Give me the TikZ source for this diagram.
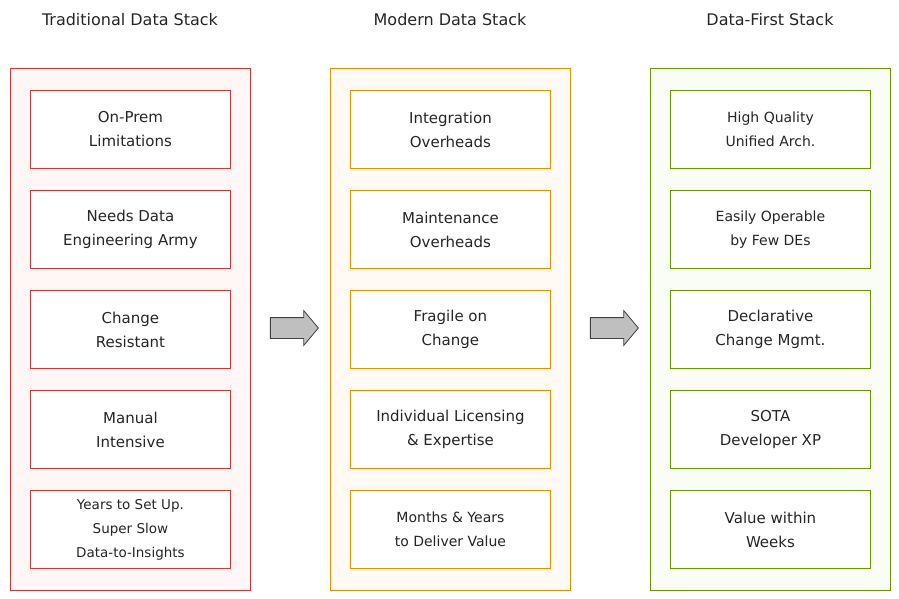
\documentclass[tikz,border=0pt]{standalone}
\usepackage{fontspec}
\setmainfont{DejaVu Sans}
\usetikzlibrary{shapes.arrows}
\definecolor{redline}{RGB}{224,49,49}
\definecolor{redfill}{RGB}{255,246,246}
\definecolor{orangeline}{RGB}{240,140,0}
\definecolor{orangefill}{RGB}{255,250,243}
\definecolor{greenline}{RGB}{102,153,0}
\definecolor{greenfill}{RGB}{250,253,246}
\tikzset{
    panel/.style={draw=#1line, fill=#1fill, line width=1pt, minimum width=240pt,
        minimum height=522pt, anchor=north west},
    item/.style={draw=#1line, fill=white, line width=0.9pt, minimum width=200pt,
        minimum height=78pt, anchor=north west, align=center, font=\fontsize{15}{24}\selectfont,
        text=black!85},
    title/.style={font=\fontsize{16}{18}\selectfont, text=black!85},
    flowarrow/.style={single arrow, draw=black!75, fill=black!25, line width=0.8pt,
        inner xsep=0pt, inner ysep=10pt, single arrow head extend=7pt,
        minimum height=48pt, single arrow tip angle=100}
}
\begin{document}
\begin{tikzpicture}[x=1pt, y=-1pt]
    \useasboundingbox (0,0) rectangle (899,599);
    \node[title] (t1) at (130,20) {Traditional Data Stack};
    \node[title] (t2) at (450,20) {Modern Data Stack};
    \node[title] (t3) at (770,20) {Data-First Stack};
    \node[panel=red] (p1) at (10,68) {};
    \node[panel=orange] (p2) at (330,68) {};
    \node[panel=green] (p3) at (650,68) {};
    % traditional
    \foreach \txt [count=\i] in {{On-Prem\\Limitations}, {Needs Data\\Engineering Army},
        {Change\\Resistant}, {Manual\\Intensive},
        {\fontsize{13.5}{19}\selectfont Years to Set Up.\\\fontsize{13.5}{19}\selectfont Super Slow\\\fontsize{13.5}{19}\selectfont Data-to-Insights}}
        \node[item=red] (a\i) at (30,{90+(\i-1)*100}) {\txt};
    % modern
    \foreach \txt [count=\i] in {{Integration\\Overheads}, {Maintenance\\Overheads},
        {Fragile on\\Change}, {Individual Licensing\\\& Expertise},
        {\fontsize{14}{22}\selectfont Months \& Years\\\fontsize{14}{22}\selectfont to Deliver Value}}
        \node[item=orange] (b\i) at (350,{90+(\i-1)*100}) {\txt};
    % data-first
    \foreach \txt [count=\i] in {{\fontsize{14}{22}\selectfont High Quality\\\fontsize{14}{22}\selectfont Unified Arch.},
        {\fontsize{14}{22}\selectfont Easily Operable\\\fontsize{14}{22}\selectfont by Few DEs},
        {Declarative\\Change Mgmt.}, {SOTA\\Developer XP}, {Value within\\Weeks}}
        \node[item=green] (c\i) at (670,{90+(\i-1)*100}) {\txt};
    \node[flowarrow] (s1) at (290,328) {};
    \node[flowarrow] (s2) at (610,328) {};
\end{tikzpicture}
\end{document}
